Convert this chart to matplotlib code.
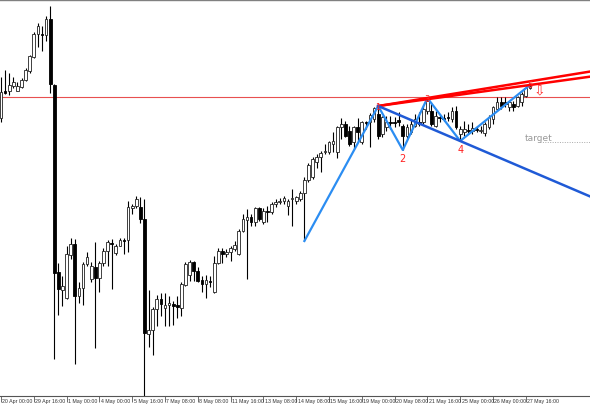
import matplotlib
matplotlib.use("Agg")
import matplotlib.pyplot as plt
from matplotlib import font_manager
import numpy as np

# ---- candle data (arbitrary price units) ----
opens = [281,308,308,313,308,312,319,328,342,365,365,364,380,314,127,109,101,144,155,103,
         111,135,120,132,121,136,148,156,146,153,159,159,191,193,192,180,65,69,90,100,
         91,94,95,94,91,114,124,137,128,119,115,118.5,107,136,148,145,147,150,145,168,
         179,182,177,191,177,188.5,187,195,197.5,198,193,200,198,200,206,219,222,237,242,247,
         247,255,247,272,275,268,257,272,257,277,277,280,285,265,272,277,277.5,279,273,263,
         267,273,277,277,288,288,273,282.5,281.5,282.5,280,288,265,267,269.5,268,270.5,268.5,266,272,
         280,290,297,297,292,295,293,297,303,311]
highs = [322,329,326,322,317,321,331,344,367,376,373,383,393,315,136,123,153,161,160,117,
         137,147,137,157,138,151,159,160,155,161,161,198,195,203,202,200,109,92,104,106,
         106,103,98,103,117,137,139,138,132,123,124,123,143,151,151,150,153,158,170,185,
         190,185,192,192,191,193,197,200,201,203,200,210,203,208,222,236,242,245,248,255,
         258,267,273,281,278,273,273,281,278,278,286,292,293,283,283,283,282,287,275,275,
         280,285,287,293,301,297,288,285,285,287,292,293,273,278,275,277,273,273,277,284,
         293,302,302,302,298,298,303,307,313,314]
lows = [277,305,304,311,308,311,318,326,341,352,348,358,306,40,84,93,100,140,35,96,
        94,133,117,51,107,133,133,110,144,153,145,147,185,191,176,3,52,44,73,83,
        73,73,74,81,83,113,118,118,117,107,101,112,106,135,136,142,138,148,144,167,
        120,173,173,178,175,177,185,192,195,195,184,173,195,198,158,217,220,231,227,245,
        245,247,241,260,262,253,250,257,255,270,252,277,260,262,268,270,272,273,249,260,
        265,272,273,275,285,273,272,277,278,278,277,270,258,263,265,265,267,266,263,270,
        275,288,290,292,288,288,292,293,302,310]
closes = [307,306.5,314,317,313,319,329,343,365,373,364,380,315,126,110,113,145,155,103,111,
          135,142,133,121,136,148,157,155.5,153,159,158.5,192,193,200,180,66,69,90,100,95,
          94,96,93,92,115,135,137,128,118,115,119,117.5,136,148,145,147,151,154,168,180,
          182,177,191,180,188,187.5,195,197,198.5,201,198,200.5,202,206,219,234,240,242,246,247.5,
          257,258,272,275,263,255,272,267,277,276,284,291,263,282,277,276.5,276.5,277,263,272,
          275,280,275,290,298,275,283,281.5,280.5,281.5,288,272,270,270,268.5,271,269.5,269.5,275,282,
          292,297,293,295,297,292,302,305,311,313]

tick_labels = ["20 Apr 00:00", "29 Apr 16:00", "1 May 00:00", "4 May 00:00", "5 May 16:00",
               "7 May 08:00", "8 May 08:00", "11 May 16:00", "13 May 08:00", "14 May 08:00",
               "15 May 16:00", "19 May 00:00", "20 May 08:00", "21 May 16:00", "25 May 00:00",
               "26 May 00:00", "27 May 16:00"]
tick_step = 8

# pattern points (candle index, price)
wave_idx = [74, 92, 98, 104, 112, 129]
wave_px = [158, 293, 249, 301, 258, 314]
wave_names = ["", "1", "2", "3", "4", "5"]
level_line = 302
target_level = 257

names = {f.name for f in font_manager.fontManager.ttflist}
label_family = "Liberation Sans Narrow" if "Liberation Sans Narrow" in names else "Liberation Sans"
label_size = 4.6 if label_family == "Liberation Sans Narrow" else 3.8

# ---- figure ----
fig = plt.figure(figsize=(5.9, 4.1), dpi=100)
ax = fig.add_axes([0, 13/410, 1, 396/410])
n = len(opens)
xs = np.arange(n)
o = np.array(opens, float); h = np.array(highs, float)
l = np.array(lows, float); c = np.array(closes, float)

ax.vlines(xs, l, h, color="black", lw=0.8, zorder=2)
bull = c >= o
body_lo = np.minimum(o, c)
body_h = np.maximum(np.abs(c - o), 0.9)
ax.bar(xs[bull], body_h[bull], bottom=body_lo[bull], width=0.68,
       facecolor="white", edgecolor="#222222", lw=0.6, zorder=3)
ax.bar(xs[~bull], body_h[~bull], bottom=body_lo[~bull], width=0.68,
       facecolor="black", edgecolor="black", lw=0.6, zorder=3)

x_left, x_right = -0.244, 143.66
ax.set_xlim(x_left, x_right)
ax.set_ylim(3, 399)

# horizontal level
ax.axhline(level_line, color="#e85050", lw=0.8, zorder=1)

# zigzag
ax.plot(wave_idx, wave_px, color="#2b8df2", lw=1.6, zorder=5)

# trend lines
def extend(i0, p0, i1, p1):
    s = (p1 - p0) / (i1 - i0)
    return [i0, x_right], [p0, p0 + s * (x_right - i0)]

xa, ya = extend(wave_idx[1], wave_px[1], wave_idx[3], wave_px[3])
ax.plot(xa, ya, color="#ff0000", lw=1.8, zorder=6)
xa, ya = extend(wave_idx[1], wave_px[1], wave_idx[5], wave_px[5])
ax.plot(xa, ya, color="#ff0000", lw=1.8, zorder=6)
xa, ya = extend(wave_idx[1], wave_px[1], wave_idx[4], wave_px[4])
ax.plot(xa, ya, color="#1f5ad6", lw=1.8, zorder=6)

# wave labels
for k in range(1, 6):
    if k in (2, 4):
        ax.annotate(wave_names[k], (wave_idx[k], wave_px[k]), xytext=(0, -2),
                    textcoords="offset points", ha="center", va="top",
                    color="#ff2020", fontsize=7, zorder=7)
    else:
        ax.annotate(wave_names[k], (wave_idx[k], wave_px[k]), xytext=(0, 0),
                    textcoords="offset points", ha="center", va="center",
                    color="#ff2020", fontsize=6, zorder=7)

# sell arrow
ax.annotate("\u21e9", (wave_idx[5], wave_px[5]), xytext=(7, -3),
            textcoords="offset points", ha="center", va="center",
            color="#ff3030", fontsize=10, zorder=7)

# target
ax.hlines(target_level, 131.5, x_right, color="#aaaaaa", lw=0.7,
          linestyles=(0, (1, 1.5)), zorder=4)
ax.annotate("target", (128, target_level), xytext=(-1, 0), textcoords="offset points",
            ha="left", va="bottom", color="#999999", fontsize=6.5, zorder=7)

# axes styling
tick_pos = [i * tick_step for i in range(len(tick_labels))]
ax.set_xticks(tick_pos)
ax.set_xticklabels([])
ax.tick_params(axis="x", direction="out", length=4, width=0.6, color="#555555")
ax.set_yticks([])
for sp in ["left", "right"]:
    ax.spines[sp].set_visible(False)
ax.spines["top"].set_color("#808080")
ax.spines["bottom"].set_color("#555555")
ax.spines["top"].set_linewidth(1.0)
ax.spines["bottom"].set_linewidth(0.8)

for p, lab in zip(tick_pos, tick_labels):
    ax.annotate(lab, (p, 0), xycoords=("data", "axes fraction"), xytext=(1.0, -1.5),
                textcoords="offset points", ha="left", va="top", fontsize=label_size,
                family=label_family, color="#333333", annotation_clip=False)

fig.savefig("out.png", dpi=100)
